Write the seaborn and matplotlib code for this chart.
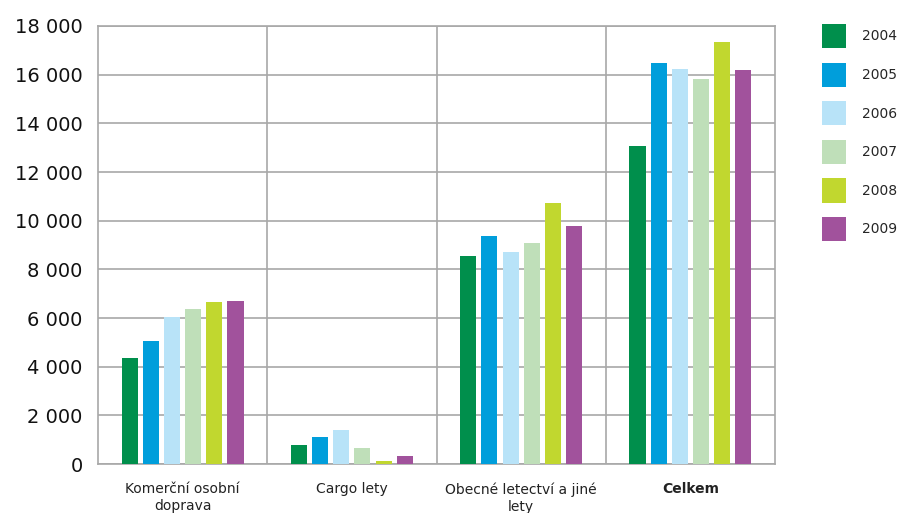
import matplotlib
matplotlib.use("Agg")
import matplotlib.pyplot as plt
from matplotlib.ticker import FuncFormatter, FixedLocator
import seaborn as sns
import pandas as pd

categories = ["Komerční osobní\ndoprava", "Cargo lety", "Obecné letectví a jiné\nlety", "Celkem"]
years = ["2004", "2005", "2006", "2007", "2008", "2009"]
values = {
    "2004": [4350, 790, 8550, 13070],
    "2005": [5060, 1110, 9370, 16480],
    "2006": [6040, 1400, 8710, 16230],
    "2007": [6370, 660, 9080, 15820],
    "2008": [6660, 130, 10730, 17340],
    "2009": [6700, 330, 9780, 16190],
}
colors = ["#008F4C", "#009EDB", "#B8E3F8", "#BFDFB9", "#C1D72F", "#A1529C"]

rows = []
for y in years:
    for c, v in zip(categories, values[y]):
        rows.append({"kategorie": c, "rok": y, "hodnota": v})
df = pd.DataFrame(rows)

sns.set_theme(style="white")
plt.rcParams["font.family"] = ["DejaVu Sans"]

fig = plt.figure(figsize=(9.0, 5.13), dpi=100)
ax = fig.add_axes([98 / 900, 1 - 464 / 513, (775 - 98) / 900, (464 - 26) / 513])

sns.barplot(data=df, x="kategorie", y="hodnota", hue="rok", order=categories,
            hue_order=years, palette=colors, saturation=1, width=0.75, gap=0.24,
            linewidth=0, edgecolor="none", ax=ax, zorder=3)

grid_col = "#A8A8A8"
ax.set_ylim(0, 18000)
ax.set_xlim(-0.5, 3.5)
ax.set_yticks(range(0, 18001, 2000))
ax.yaxis.set_major_formatter(FuncFormatter(lambda v, p: f"{int(v):,}".replace(",", " ")))
ax.yaxis.grid(True, color=grid_col, linewidth=1.2, zorder=0)
ax.xaxis.set_minor_locator(FixedLocator([0.5, 1.5, 2.5]))
ax.xaxis.grid(True, which="minor", color=grid_col, linewidth=1.2, zorder=0)
ax.xaxis.grid(False, which="major")
ax.set_axisbelow(True)
for s in ax.spines.values():
    s.set_visible(True)
    s.set_color(grid_col)
    s.set_linewidth(1.2)

ax.set_xlabel("")
ax.set_ylabel("")
ax.tick_params(axis="y", length=0, pad=11, labelsize=14, labelcolor="#111111")
ax.tick_params(axis="x", which="both", length=0, pad=13, labelsize=10, labelcolor="#222222")
for lbl in ax.get_xticklabels():
    lbl.set_linespacing(1.3)
    if lbl.get_text() == "Celkem":
        lbl.set_fontweight("bold")

handles, labels = ax.get_legend_handles_labels()
ax.legend(handles, labels, loc="upper left", bbox_to_anchor=(822 / 900, 1 - 24 / 513),
          bbox_transform=fig.transFigure, frameon=False, fontsize=10,
          handlelength=1.75, handleheight=2.3, labelspacing=1.04, handletextpad=1.1,
          borderpad=0, borderaxespad=0)

fig.savefig("out.png", dpi=100)
